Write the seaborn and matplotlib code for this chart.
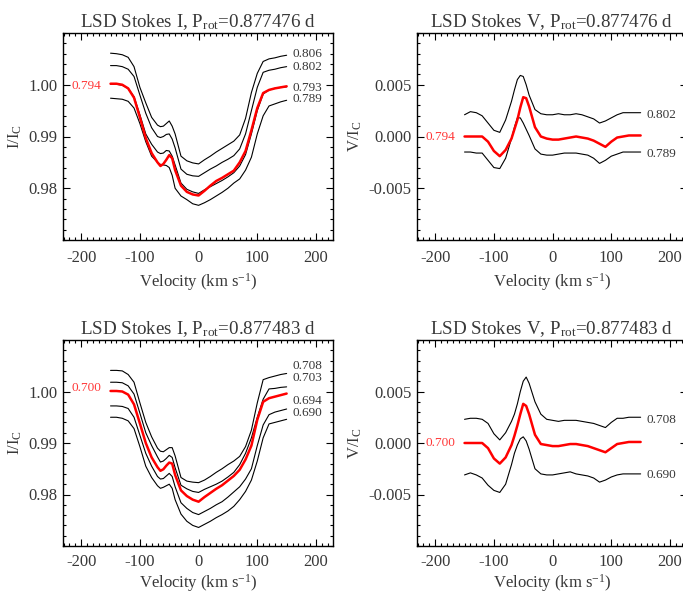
import numpy as np
import pandas as pd
import matplotlib
matplotlib.use("Agg")
import matplotlib.pyplot as plt
from matplotlib.ticker import MultipleLocator, FixedLocator
import seaborn as sns

# ---------------- data ----------------
velocity = [-150, -140, -130, -120, -110, -100, -90, -80, -70, -65, -60, -55, -50, -45, -40, -30, -20, -10,
            0, 10, 20, 30, 40, 50, 60, 70, 80, 90, 100, 110, 120, 130, 140, 150]

# Stokes I, P_rot = 0.877476 d
I1_0806 = [1.0061, 1.0060, 1.0058, 1.0053, 1.0035, 0.9995, 0.9965, 0.9937, 0.9922, 0.9919, 0.9920, 0.9925, 0.9930, 0.9920, 0.9905, 0.9862, 0.9853, 0.9849,
           0.9847, 0.9855, 0.9862, 0.9870, 0.9877, 0.9884, 0.9891, 0.9903, 0.9935, 0.9985, 1.0022, 1.0045, 1.0050, 1.0052, 1.0055, 1.0057]
I1_0802 = [1.0037, 1.0037, 1.0035, 1.0030, 1.0016, 0.9980, 0.9945, 0.9917, 0.9900, 0.9898, 0.9900, 0.9904, 0.9905, 0.9895, 0.9878, 0.9837, 0.9827, 0.9824,
           0.9823, 0.9830, 0.9837, 0.9843, 0.9850, 0.9856, 0.9863, 0.9876, 0.9905, 0.9950, 0.9995, 1.0024, 1.0028, 1.0030, 1.0033, 1.0035]
I1_0794 = [1.0002, 1.0002, 1.0000, 0.9993, 0.9975, 0.9937, 0.9897, 0.9868, 0.9850, 0.9843, 0.9847, 0.9855, 0.9864, 0.9858, 0.9835, 0.9805, 0.9793, 0.9788,
           0.9786, 0.9795, 0.9805, 0.9814, 0.9820, 0.9827, 0.9834, 0.9850, 0.9872, 0.9912, 0.9955, 0.9984, 0.9990, 0.9993, 0.9995, 0.9997]
I1_0793 = [1.0001, 1.0001, 0.9999, 0.9993, 0.9977, 0.9942, 0.9905, 0.9885, 0.9870, 0.9867, 0.9868, 0.9873, 0.9872, 0.9862, 0.9845, 0.9810, 0.9798, 0.9793,
           0.9790, 0.9797, 0.9803, 0.9809, 0.9815, 0.9822, 0.9830, 0.9843, 0.9865, 0.9905, 0.9950, 0.9982, 0.9990, 0.9993, 0.9995, 0.9996]
I1_0789 = [0.9974, 0.9973, 0.9972, 0.9968, 0.9955, 0.9925, 0.9890, 0.9862, 0.9850, 0.9846, 0.9845, 0.9844, 0.9840, 0.9825, 0.9800, 0.9785, 0.9778, 0.9770,
           0.9767, 0.9772, 0.9778, 0.9785, 0.9792, 0.9800, 0.9810, 0.9818, 0.9835, 0.9860, 0.9905, 0.9940, 0.9959, 0.9963, 0.9967, 0.9970]

# Stokes V, P_rot = 0.877476 d
V1_0802 = [0.0021, 0.0024, 0.0023, 0.0020, 0.0013, 0.0006, 0.0004, 0.0016, 0.0034, 0.0045, 0.0055, 0.0059, 0.0058, 0.0050, 0.0040, 0.0026, 0.0022, 0.0021,
           0.0021, 0.0022, 0.0021, 0.0021, 0.0022, 0.0021, 0.0019, 0.0017, 0.0013, 0.0015, 0.0018, 0.0021, 0.0023, 0.0023, 0.0023, 0.0023]
V1_0794 = [0.0000, 0.0000, 0.0000, 0.0000, -0.0005, -0.0014, -0.0019, -0.0013, -0.0002, 0.0007, 0.0016, 0.0028, 0.0038, 0.0037, 0.0029, 0.0009, 0.0000, -0.0002,
           -0.0003, -0.0003, -0.0002, -0.0001, 0.0000, -0.0001, -0.0002, -0.0004, -0.0007, -0.0010, -0.0005, -0.0001, 0.0000, 0.0001, 0.0001, 0.0001]
V1_0789 = [-0.0015, -0.0015, -0.0016, -0.0016, -0.0023, -0.0030, -0.0031, -0.0021, -0.0002, 0.0009, 0.0018, 0.0018, 0.0013, 0.0007, 0.0001, -0.0012, -0.0017, -0.0018,
           -0.0018, -0.0017, -0.0016, -0.0016, -0.0016, -0.0017, -0.0018, -0.0021, -0.0026, -0.0023, -0.0019, -0.0017, -0.0015, -0.0015, -0.0015, -0.0015]

# Stokes I, P_rot = 0.877483 d
I2_0708 = [1.0041, 1.0041, 1.0040, 1.0033, 1.0018, 0.9978, 0.9940, 0.9912, 0.9890, 0.9884, 0.9883, 0.9887, 0.9891, 0.9891, 0.9875, 0.9833, 0.9826, 0.9824,
           0.9823, 0.9828, 0.9835, 0.9843, 0.9850, 0.9858, 0.9865, 0.9874, 0.9893, 0.9925, 0.9978, 1.0023, 1.0027, 1.0030, 1.0033, 1.0035]
I2_0703 = [1.0018, 1.0018, 1.0017, 1.0011, 0.9995, 0.9958, 0.9920, 0.9895, 0.9873, 0.9863, 0.9865, 0.9870, 0.9876, 0.9872, 0.9852, 0.9818, 0.9811, 0.9806,
           0.9804, 0.9810, 0.9815, 0.9820, 0.9826, 0.9834, 0.9843, 0.9858, 0.9880, 0.9910, 0.9950, 0.9985, 1.0005, 1.0006, 1.0008, 1.0009]
I2_0700 = [1.0001, 1.0001, 1.0000, 0.9994, 0.9975, 0.9938, 0.9900, 0.9872, 0.9853, 0.9846, 0.9849, 0.9856, 0.9862, 0.9860, 0.9838, 0.9808, 0.9797, 0.9790,
           0.9786, 0.9795, 0.9803, 0.9811, 0.9818, 0.9827, 0.9836, 0.9848, 0.9868, 0.9895, 0.9945, 0.9980, 0.9987, 0.9990, 0.9993, 0.9996]
I2_0694 = [0.9972, 0.9972, 0.9971, 0.9967, 0.9950, 0.9915, 0.9880, 0.9855, 0.9835, 0.9830, 0.9831, 0.9836, 0.9841, 0.9835, 0.9815, 0.9784, 0.9773, 0.9765,
           0.9761, 0.9767, 0.9773, 0.9780, 0.9786, 0.9795, 0.9805, 0.9815, 0.9830, 0.9850, 0.9895, 0.9935, 0.9955, 0.9960, 0.9963, 0.9966]
I2_0690 = [0.9950, 0.9950, 0.9948, 0.9943, 0.9928, 0.9893, 0.9855, 0.9833, 0.9817, 0.9812, 0.9814, 0.9817, 0.9820, 0.9812, 0.9790, 0.9762, 0.9748, 0.9740,
           0.9736, 0.9742, 0.9748, 0.9755, 0.9761, 0.9768, 0.9777, 0.9790, 0.9806, 0.9828, 0.9865, 0.9910, 0.9937, 0.9940, 0.9943, 0.9946]

# Stokes V, P_rot = 0.877483 d
V2_0708 = [0.0023, 0.0024, 0.0024, 0.0023, 0.0019, 0.0009, 0.0003, 0.0010, 0.0021, 0.0028, 0.0038, 0.0050, 0.0060, 0.0064, 0.0058, 0.0040, 0.0028, 0.0023,
           0.0022, 0.0021, 0.0022, 0.0022, 0.0022, 0.0021, 0.0020, 0.0019, 0.0017, 0.0015, 0.0020, 0.0024, 0.0024, 0.0025, 0.0025, 0.0025]
V2_0700 = [0.0000, 0.0000, 0.0000, 0.0000, -0.0005, -0.0015, -0.0020, -0.0014, -0.0002, 0.0007, 0.0017, 0.0028, 0.0038, 0.0036, 0.0028, 0.0008, -0.0001, -0.0002,
           -0.0003, -0.0003, -0.0002, -0.0001, -0.0001, -0.0002, -0.0003, -0.0005, -0.0007, -0.0009, -0.0005, -0.0001, 0.0000, 0.0001, 0.0001, 0.0001]
V2_0690 = [-0.0031, -0.0029, -0.0031, -0.0034, -0.0041, -0.0046, -0.0048, -0.0040, -0.0021, -0.0010, -0.0002, 0.0004, 0.0006, 0.0002, -0.0006, -0.0025, -0.0030, -0.0031,
           -0.0031, -0.0030, -0.0029, -0.0028, -0.0030, -0.0031, -0.0032, -0.0034, -0.0038, -0.0036, -0.0033, -0.0031, -0.0030, -0.0030, -0.0030, -0.0030]

titles = ["LSD Stokes I, P$_{\\rm rot}$=0.877476 d", "LSD Stokes V, P$_{\\rm rot}$=0.877476 d",
          "LSD Stokes I, P$_{\\rm rot}$=0.877483 d", "LSD Stokes V, P$_{\\rm rot}$=0.877483 d"]

# panels: (black curves, black labels, black label y, red curve, red label, red label y)
panels = [
    ([I1_0806, I1_0802, I1_0793, I1_0789], ["0.806", "0.802", "0.793", "0.789"], [1.0059, 1.0035, 0.9994, 0.9972],
     I1_0794, "0.794", 0.9998),
    ([V1_0802, V1_0789], ["0.802", "0.789"], [0.0021, -0.0017], V1_0794, "0.794", 0.0),
    ([I2_0708, I2_0703, I2_0694, I2_0690], ["0.708", "0.703", "0.694", "0.690"], [1.0049, 1.0026, 0.9982, 0.9958],
     I2_0700, "0.700", 1.0006),
    ([V2_0708, V2_0690], ["0.708", "0.690"], [0.00226, -0.0031], V2_0700, "0.700", 0.0),
]

# ---------------- style ----------------
sns.set_style("ticks")
plt.rcParams["font.family"] = ["Liberation Serif", "DejaVu Serif"]
plt.rcParams["mathtext.fontset"] = "custom"
plt.rcParams["mathtext.rm"] = "Liberation Serif"
plt.rcParams["mathtext.it"] = "Liberation Serif:italic"
txt = "#383838"

fig = plt.figure(figsize=(6.83, 5.96), dpi=100)
W, H = 683.0, 596.0
boxes = [(63, 33, 270, 207), (417, 33, 270, 207), (63, 340, 270, 206), (417, 340, 270, 206)]

for k, (box, title, panel) in enumerate(zip(boxes, titles, panels)):
    x0, y0, w, h = box
    ax = fig.add_axes([x0 / W, 1 - (y0 + h) / H, w / W, h / H])
    blacks, blabels, blaby, red, rlabel, rlaby = panel
    for curve in blacks:
        sns.lineplot(x=velocity, y=curve, ax=ax, color="black", lw=0.8, estimator=None, sort=False)
    sns.lineplot(x=velocity, y=red, ax=ax, color="#ff0000", lw=1.8, estimator=None, sort=False)
    for lab, ly in zip(blabels, blaby):
        ax.text(160, ly, lab, color=txt, fontsize=9.5, ha="left", va="center")
    ax.text(-166, rlaby, rlabel, color="#ff3838", fontsize=9.5, ha="right", va="center")

    ax.set_xlim(-231, 229)
    ax.xaxis.set_major_locator(FixedLocator([-200, -100, 0, 100, 200]))
    ax.xaxis.set_minor_locator(MultipleLocator(10))
    if k % 2 == 0:
        ax.set_ylim(0.97, 1.01)
        ax.yaxis.set_major_locator(FixedLocator([0.98, 0.99, 1.00]))
        ax.yaxis.set_minor_locator(MultipleLocator(0.002))
        ax.set_yticklabels(["0.98", "0.99", "1.00"])
        ax.set_ylabel("I/I$_{\\rm C}$", fontsize=12, color=txt, labelpad=3)
    else:
        ax.set_ylim(-0.01, 0.01)
        ax.yaxis.set_major_locator(FixedLocator([-0.005, 0.0, 0.005]))
        ax.yaxis.set_minor_locator(MultipleLocator(0.001))
        ax.set_yticklabels(["-0.005", "0.000", "0.005"])
        ax.set_ylabel("V/I$_{\\rm C}$", fontsize=12, color=txt, labelpad=3)
    ax.set_xticklabels(["-200", "-100", "0", "100", "200"])
    ax.set_xlabel("Velocity (km s$^{-1}$)", fontsize=12, color=txt, labelpad=4 if k < 2 else 1.5)
    ax.set_title(title, fontsize=13.7, color=txt, pad=4)
    ax.tick_params(which="both", direction="in", top=True, right=True, colors="black",
                   labelcolor=txt, labelsize=12, width=0.8)
    ax.tick_params(which="major", length=5)
    ax.tick_params(which="minor", length=2.5)
    ax.tick_params(axis="x", which="major", pad=7 if k < 2 else 6)
    ax.tick_params(axis="y", which="major", pad=4)
    for s in ax.spines.values():
        s.set_linewidth(1.0)
        s.set_color("black")

fig.savefig("out.png", dpi=100)
